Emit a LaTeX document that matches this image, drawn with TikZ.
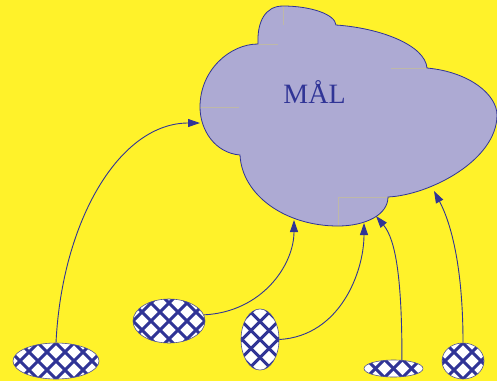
\documentclass[tikz,border=0pt]{standalone}
\usepackage{fontspec}
\setmainfont{Liberation Serif}
\usetikzlibrary{shapes.geometric,arrows.meta}
\definecolor{bgyellow}{RGB}{255,242,42}
\definecolor{cloudfill}{RGB}{173,170,211}
\definecolor{navy}{RGB}{48,52,150}
\definecolor{guide}{RGB}{190,184,168}
\begin{document}
\begin{tikzpicture}[x=1pt,y=-1pt,
  hatched/.style={ellipse, inner sep=0pt, draw=navy!60!gray, line width=0.6pt, fill=white,
    path picture={\foreach \c in {-126,-108,...,126}{
       \draw[navy,line width=3pt] ([shift={(\c-80,-80)}]path picture bounding box.center) -- ++(160,160);
       \draw[navy,line width=3pt] ([shift={(\c+80,-80)}]path picture bounding box.center) -- ++(-160,160);}}},
  link/.style={draw=navy, line width=0.9pt, -{Triangle[length=12pt,width=8pt]}},
  guideline/.style={draw=guide, line width=0.6pt},
  cloudline/.style={draw=navy, line width=0.8pt}]
\useasboundingbox (0,0) rectangle (497,381);
\fill[bgyellow] (0,0) rectangle (497,381);

% cloud
\fill[cloudfill] (258,44) .. controls (257,22) and (265,6) .. (283,6)
  .. controls (310,6) and (335,14) .. (336,25)
  .. controls (380,28) and (425,45) .. (427,68)
  .. controls (470,72) and (497,95) .. (497,115)
  .. controls (497,160) and (430,195) .. (388,197)
  .. controls (388,215) and (365,226) .. (338,226)
  .. controls (285,226) and (242,195) .. (240,155)
  .. controls (215,153) and (200,130) .. (200,107)
  .. controls (200,70) and (230,44) .. (258,44) -- cycle;
\draw[guideline] (283,6) -- (283,25);
\draw[guideline] (258,44) -- (278,44);
\draw[guideline] (391,68) -- (427,68);
\draw[guideline] (200,107) -- (239,107);
\draw[guideline] (338,226) -- (338,197) -- (388,197);
\draw[cloudline] (258,44) .. controls (257,22) and (265,6) .. (283,6)
  .. controls (310,6) and (335,14) .. (336,25)
  .. controls (380,28) and (425,45) .. (427,68)
  .. controls (470,72) and (497,95) .. (497,115)
  .. controls (497,160) and (430,195) .. (388,197)
  .. controls (388,215) and (365,226) .. (338,226)
  .. controls (285,226) and (242,195) .. (240,155)
  .. controls (215,153) and (200,130) .. (200,107)
  .. controls (200,70) and (230,44) .. (258,44) -- cycle;
\node[text=navy, font=\fontsize{28}{30}\selectfont, anchor=base] (goal) at (314.5,103) {MÅL};

\coordinate (ta) at (200,123);
\coordinate (tb) at (294,220);
\coordinate (tc) at (364,223);
\coordinate (td) at (376,216);
\coordinate (te) at (434,191);

% hatched ellipses
\node[hatched, minimum width=86pt, minimum height=36pt] (e1) at (56,361) {};
\node[hatched, minimum width=72pt, minimum height=44pt] (e2) at (169,321) {};
\node[hatched, minimum width=38pt, minimum height=61pt] (e3) at (260,339.5) {};
\node[hatched, minimum width=59pt, minimum height=17pt] (e4) at (393.5,368.5) {};
\node[hatched, minimum width=42pt, minimum height=36pt] (e5) at (463,361) {};

% connectors
\draw[link] (e1.north) .. controls (62,220) and (120,123) .. (ta);
\draw[link] (e2.10) .. controls (262,312) and (294,265) .. (tb);
\draw[link] (e3.east) .. controls (340,336) and (364,272) .. (tc);
\draw[link] (e4.45) .. controls (402,280) and (396,240) .. (td);
\draw[link] (e5.north) .. controls (463,270) and (452,225) .. (te);
\end{tikzpicture}
\end{document}
